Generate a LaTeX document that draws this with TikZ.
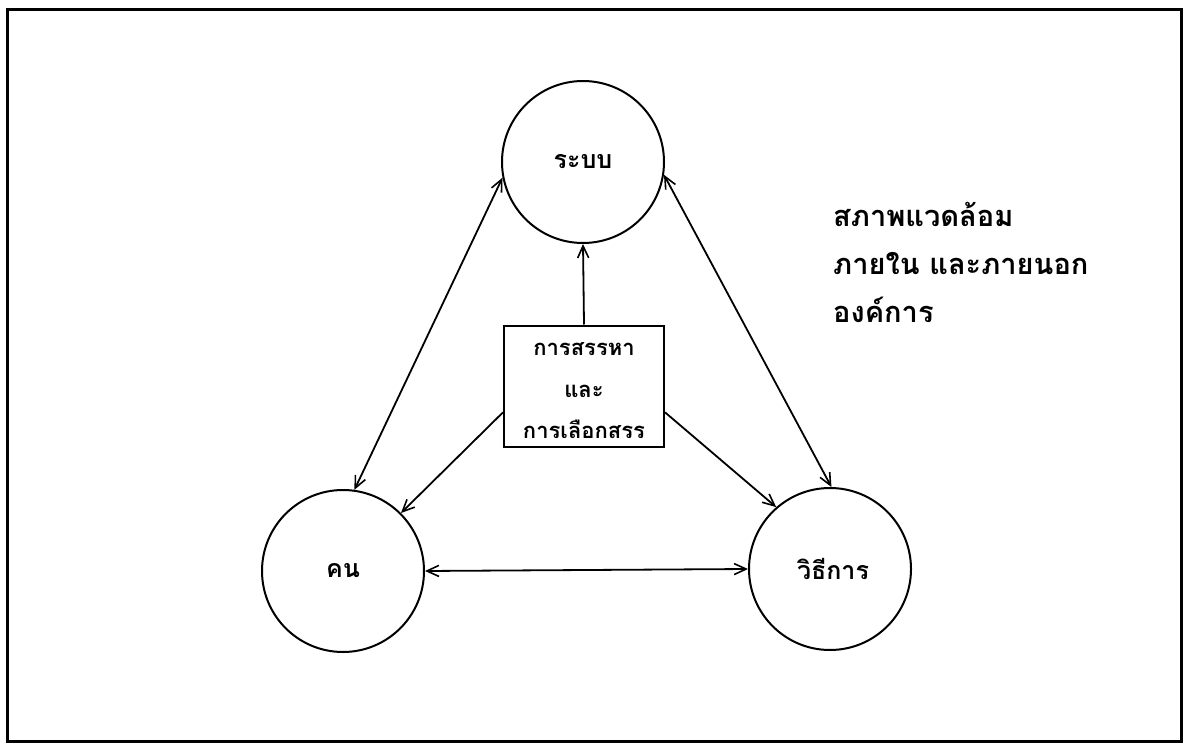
\documentclass[tikz,border=0pt]{standalone}
\usepackage{fontspec}
\setmainfont[Script=Thai]{Loma}
\usetikzlibrary{arrows.meta}
\begin{document}
\begin{tikzpicture}[x=1pt,y=-1pt,
  circ/.style={draw,circle,line width=2pt,minimum size=162pt,inner sep=0pt,font=\fontsize{25}{28}\selectfont\bfseries},
  boxnode/.style={draw,rectangle,line width=2pt,minimum width=160pt,minimum height=121pt,inner sep=0pt},
  boxtext/.style={anchor=base,inner sep=0pt,font=\fontsize{22}{26}\selectfont\bfseries},
  envtext/.style={anchor=base west,inner sep=0pt,font=\fontsize{29}{34}\selectfont\bfseries},
  conn/.style={line width=1.8pt},
  tip/.style={-{Straight Barb[length=12pt,width=11pt,line width=1.6pt]}},
  dbl/.style={{Straight Barb[length=12pt,width=11pt,line width=1.6pt]}-{Straight Barb[length=12pt,width=11pt,line width=1.6pt]}}]
\useasboundingbox (0,0) rectangle (1185,743);
\draw[line width=3pt] (7,10) rectangle (1181,741);
\node[circ] (sys) at (583,162) {ระบบ};
\node[circ] (person) at (343,571) {คน};
\node[circ] (method) at (830,569) {\hspace{6pt}วิธีการ};
\node[boxnode] (box) at (584,386) {};
\node[boxtext] (b1) at (584,355) {การสรรหา};
\node[boxtext] (b2) at (584,397) {และ};
\node[boxtext] (b3) at (584,438) {การเลือกสรร};
\node[envtext] (env1) at (833,227) {สภาพแวดล้อม};
\node[envtext] (env2) at (833,274) {ภายใน และภายนอก};
\node[envtext] (env3) at (833,322) {องค์การ};
\draw[conn,dbl] (sys.191) -- (person.82);
\draw[conn,dbl] (sys.351) -- (method.89);
\draw[conn,dbl] (person.0) -- (method.180);
\draw[conn,tip] (box.north) -- (sys.south);
\draw[conn,tip] (box.198) -- (person.45);
\draw[conn,tip] (box.342) -- (method.131);
\end{tikzpicture}
\end{document}
